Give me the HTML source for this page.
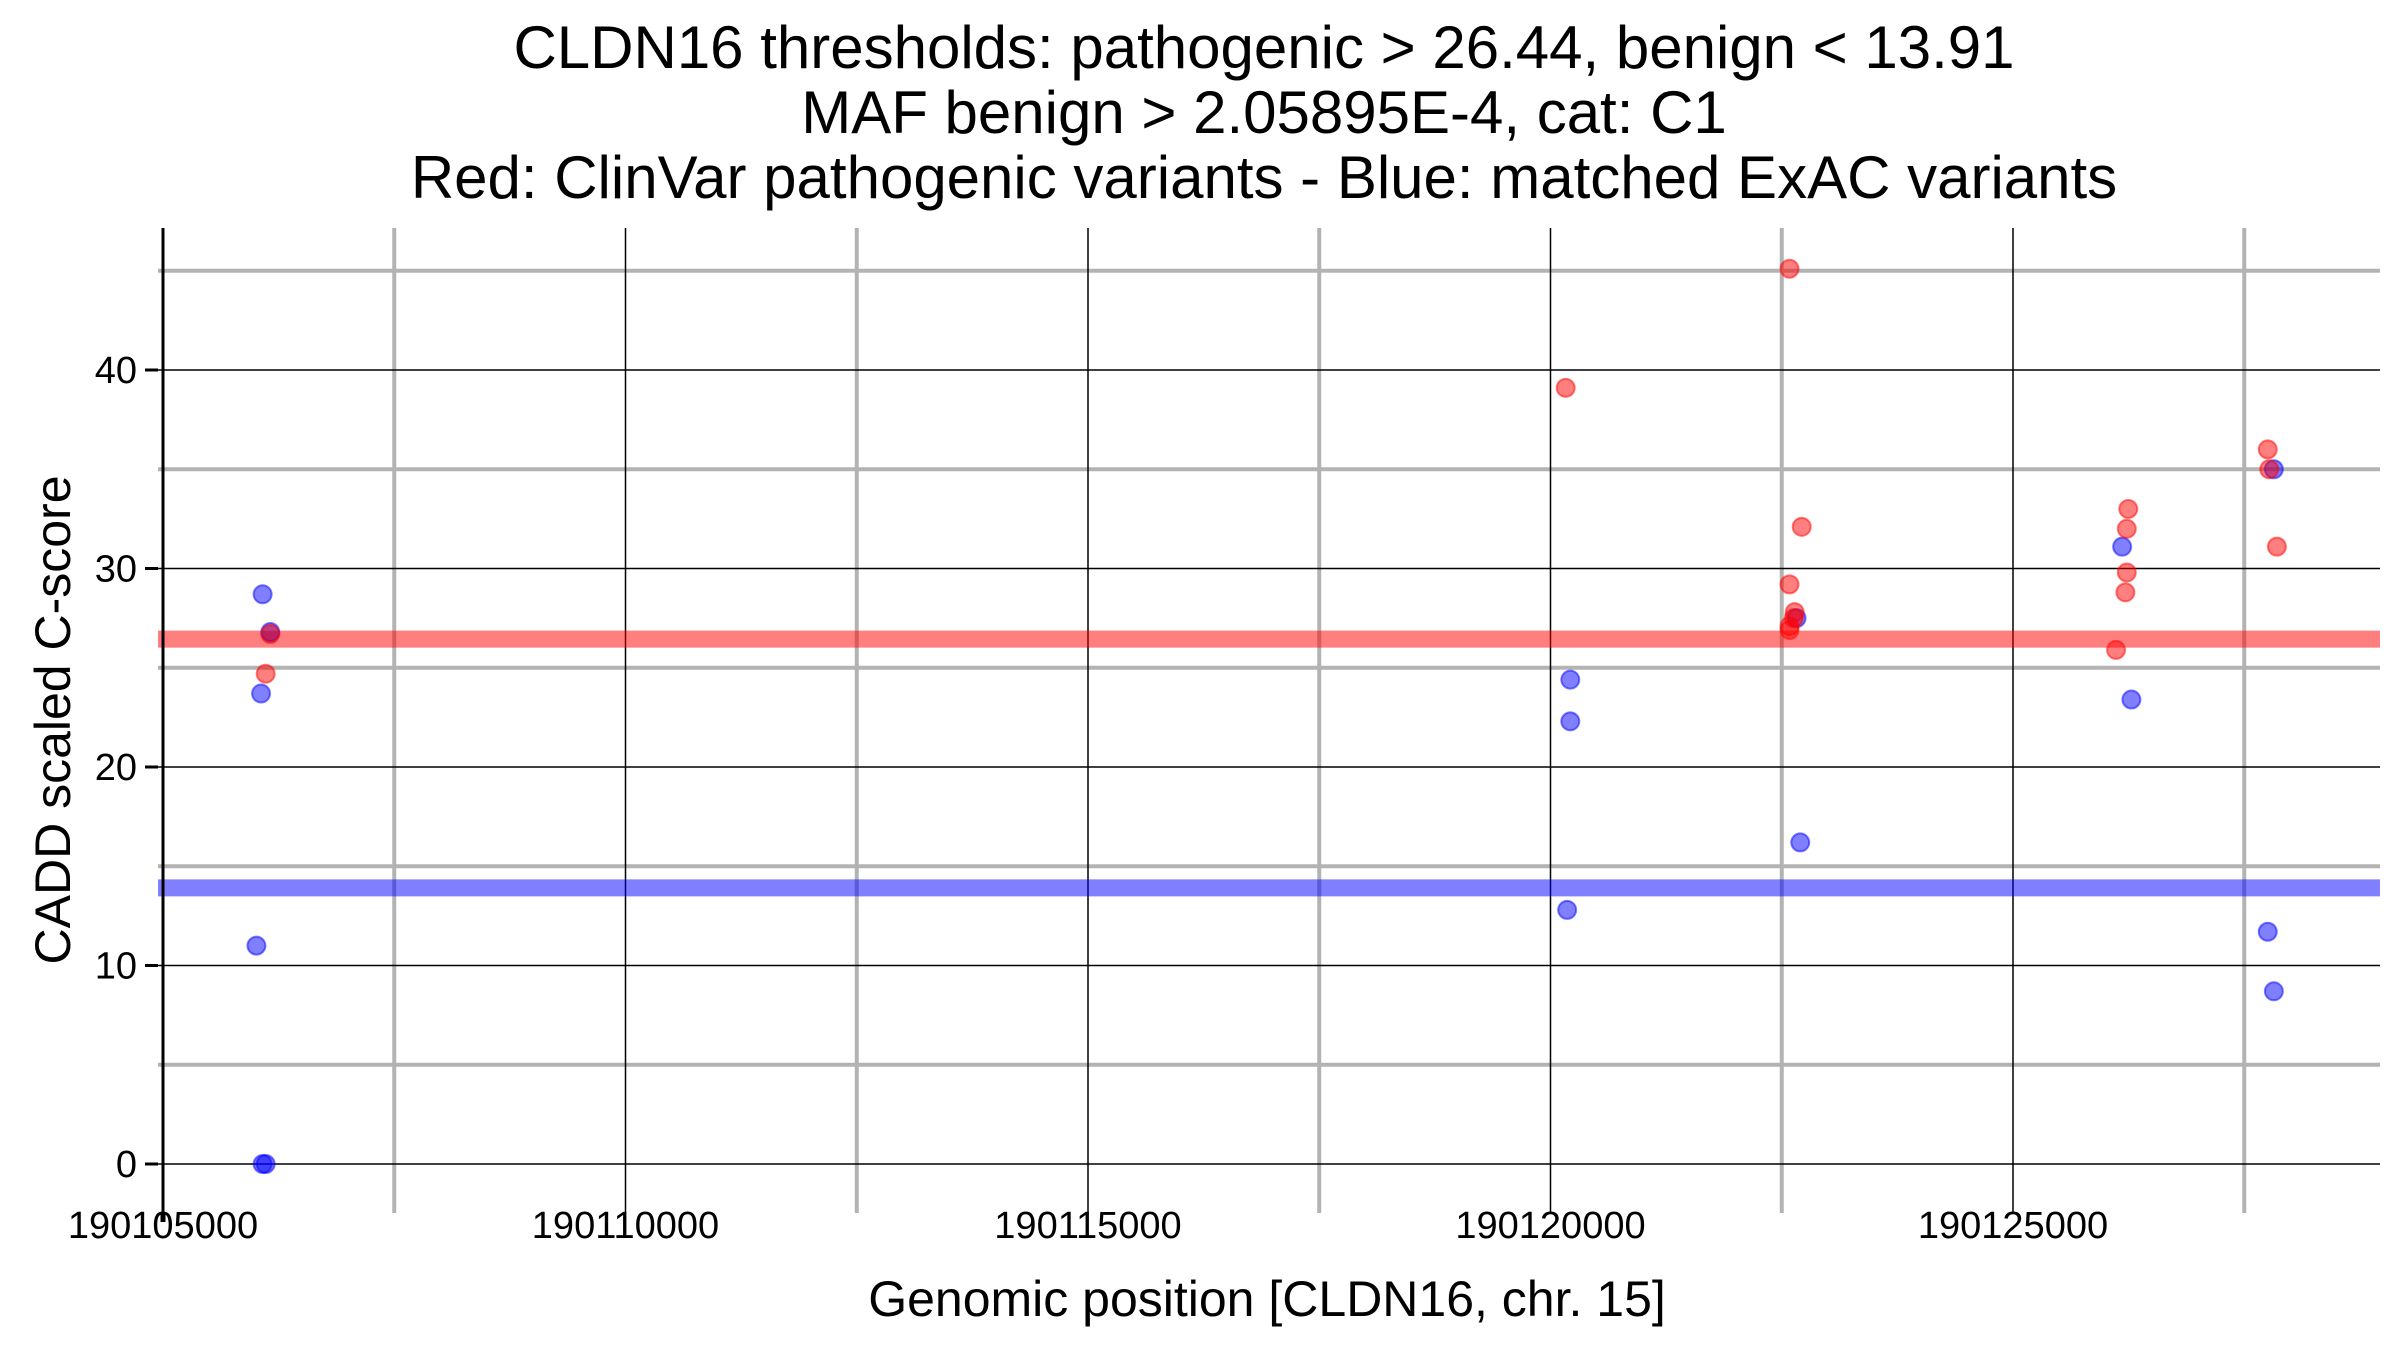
<!DOCTYPE html>
<html><head><meta charset="utf-8"><style>
html,body{margin:0;padding:0;background:#fff;}
svg{display:block;font-family:"Liberation Sans",Arial,sans-serif;}
</style></head><body>
<svg id="chart" width="2400" height="1350" viewBox="0 0 2400 1350" xmlns="http://www.w3.org/2000/svg">
<g font-size="60" text-anchor="middle" fill="#000">
<text x="1264" y="68">CLDN16 thresholds: pathogenic &gt; 26.44, benign &lt; 13.91</text>
<text x="1264" y="133">MAF benign &gt; 2.05895E-4, cat: C1</text>
<text x="1264" y="198">Red: ClinVar pathogenic variants - Blue: matched ExAC variants</text>
</g>
<g id="grid"></g>
<g id="thresholds"></g>
<g id="points"></g>
<g id="axes"></g>
<text x="1267" y="1316" font-size="50" text-anchor="middle">Genomic position [CLDN16, chr. 15]</text>
<text transform="translate(70,720) rotate(-90)" font-size="50" text-anchor="middle">CADD scaled C-score</text>
</svg>
<script>
const xTicks = [190105000, 190110000, 190115000, 190120000, 190125000];
const xMinor = [190107500, 190112500, 190117500, 190122500, 190127500];
const yTicks = [0, 10, 20, 30, 40];
const yMinor = [5, 15, 25, 35, 45];
const thresholdPathogenic = 26.44;
const thresholdBenign = 13.91;
const redX = [190106110,190106160,190122584,190120164,190122584,190122716,190122640,190122630,190122584,190122584,190126246,190126230,190126230,190126215,190126114,190127754,190127770,190127853];
const redY = [24.7,26.7,45.1,39.1,29.2,32.1,27.8,27.5,27.1,26.9,33.0,32.0,29.8,28.8,25.9,36.0,35.0,31.1];
const blueX = [190106077,190106160,190106060,190106010,190106077,190106110,190120214,190120214,190120180,190122660,190122700,190126180,190126280,190127820,190127754,190127820];
const blueY = [28.7,26.8,23.7,11.0,0,0,24.4,22.3,12.8,27.5,16.2,31.1,23.4,35.0,11.7,8.7];

const X0=163, XPX=92.5/1000, Y0=1164, YPX=19.85;
const PL=158, PR=2380, PT=228, PB=1213;
const sx=v=>X0+(v-190105000)*XPX;
const sy=v=>Y0-v*YPX;
const NS="http://www.w3.org/2000/svg";
function mk(parent,tag,attrs){const e=document.createElementNS(NS,tag);for(const k in attrs)e.setAttribute(k,attrs[k]);parent.appendChild(e);return e;}
const grid=document.getElementById('grid');
yMinor.forEach(v=>{const l=mk(grid,'line',{x1:PL,x2:PR,y1:sy(v),y2:sy(v),stroke:'#b3b3b3','stroke-width':4});

});
xMinor.forEach(v=>{const l=mk(grid,'line',{x1:sx(v),x2:sx(v),y1:PT,y2:PB,stroke:'#b3b3b3','stroke-width':4});

});
yTicks.forEach(v=>{const l=mk(grid,'line',{x1:PL,x2:PR,y1:sy(v),y2:sy(v),stroke:'#000','stroke-width':1.5});

});
xTicks.forEach(v=>{const l=mk(grid,'line',{x1:sx(v),x2:sx(v),y1:PT,y2:PB,stroke:'#000','stroke-width':1.5});

});
const th=document.getElementById('thresholds');
const tr=mk(th,'line',{x1:PL,x2:PR,y1:sy(thresholdPathogenic),y2:sy(thresholdPathogenic),stroke:'rgba(255,0,0,0.5)','stroke-width':17});


const tb=mk(th,'line',{x1:PL,x2:PR,y1:sy(thresholdBenign),y2:sy(thresholdBenign),stroke:'rgba(0,0,255,0.5)','stroke-width':17});


const pts=document.getElementById('points');
blueX.forEach((x,i)=>{const c=mk(pts,'circle',{cx:sx(x),cy:sy(blueY[i]),r:9,fill:'rgba(0,0,255,0.5)',stroke:'rgba(0,0,255,0.5)','stroke-width':2});

});
redX.forEach((x,i)=>{const c=mk(pts,'circle',{cx:sx(x),cy:sy(redY[i]),r:9,fill:'rgba(255,0,0,0.5)',stroke:'rgba(255,0,0,0.5)','stroke-width':2});

});
const ax=document.getElementById('axes');
const ya=mk(ax,'line',{x1:X0,x2:X0,y1:PT,y2:PB,stroke:'#000','stroke-width':3});


const xm=mk(ax,'line',{x1:X0,x2:X0,y1:PB,y2:1222,stroke:'#000','stroke-width':5});


yTicks.forEach(v=>{const t=mk(ax,'line',{x1:145,x2:158,y1:sy(v),y2:sy(v),stroke:'#000','stroke-width':3});


const lb=mk(ax,'text',{x:137,y:sy(v)+13,'font-size':38,'text-anchor':'end'});lb.textContent=v;

});
xTicks.forEach(v=>{const lb=mk(ax,'text',{x:sx(v),y:1238,'font-size':38,'text-anchor':'middle'});lb.textContent=v;

});
</script>
</body></html>
